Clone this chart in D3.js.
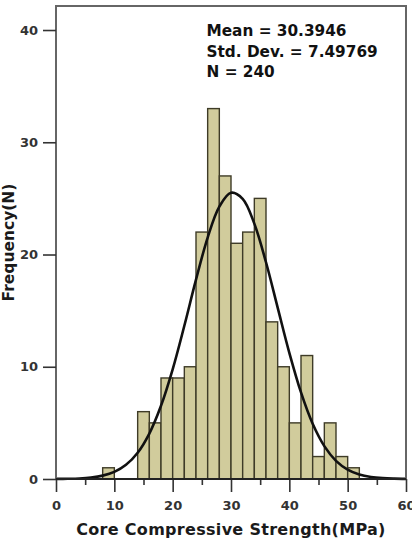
<!DOCTYPE html>
<html>
<head>
<meta charset="utf-8">
<script src="https://cdn.jsdelivr.net/npm/d3@7"></script>
<style>
  body { margin: 0; background: #fff; }
  text { font-family: "DejaVu Sans", Verdana, sans-serif; font-weight: bold; }
</style>
</head>
<body>
<div id="chart"></div>
<script>
// histogram bins (lower edge, MPa) and counts
var binStarts = [8, 10, 12, 14, 16, 18, 20, 22, 24, 26, 28, 30, 32, 34, 36, 38, 40, 42, 44, 46, 48, 50];
var counts    = [1, 0, 0, 6, 5, 9, 9, 10, 22, 33, 27, 21, 22, 25, 14, 10, 5, 11, 2, 5, 2, 1];
var binWidth = 2;

// fitted normal curve, read at every 2 MPa
var curveX = [0, 2, 4, 6, 8, 10, 12, 14, 16, 18, 20, 22, 24, 26, 28, 30, 32, 34, 36, 38, 40, 42, 44, 46, 48, 50, 52, 54, 56, 58, 60];
var curveY = [0.007, 0.02, 0.05, 0.13, 0.3, 0.63, 1.26, 2.34, 4.05, 6.52, 9.77, 13.65, 17.76, 21.51, 24.27, 25.5,
              24.96, 22.75, 19.31, 15.27, 11.24, 7.71, 4.92, 2.93, 1.62, 0.84, 0.4, 0.18, 0.075, 0.03, 0.01];

var xTicks = [0, 10, 20, 30, 40, 50, 60];
var xMinorTicks = [5, 15, 25, 35, 45, 55];
var yTicks = [0, 10, 20, 30, 40];

var statsLines = ["Mean = 30.3946", "Std. Dev. = 7.49769", "N = 240"];

var svgWidth = 412;
var svgHeight = 543;
var margin = { top: 6, right: 6, bottom: 64, left: 56 };
var width = svgWidth - margin.left - margin.right;
var height = svgHeight - margin.top - margin.bottom;

var svg = d3.select("#chart")
  .append("svg")
  .attr("width", svgWidth)
  .attr("height", svgHeight);

var chartGroup = svg.append("g")
  .attr("transform", `translate(${margin.left}, ${margin.top})`);

var x = d3.scaleLinear().domain([0, 60]).range([0, width]);
var y = d3.scaleLinear().domain([0, 42.14]).range([height, 0]);

// bars
var bins = binStarts.map((b, i) => ({ x0: b, n: counts[i] })).filter(d => d.n > 0);
chartGroup.selectAll("rect.bar")
  .data(bins)
  .enter()
  .append("rect")
  .attr("class", "bar")
  .attr("x", d => x(d.x0))
  .attr("y", d => y(d.n))
  .attr("width", d => x(d.x0 + binWidth) - x(d.x0))
  .attr("height", d => y(0) - y(d.n))
  .attr("fill", "#d1cc9c")
  .attr("stroke", "#3e3b27")
  .attr("stroke-width", 1.4);

// normal curve
var line = d3.line()
  .x(d => x(d[0]))
  .y(d => y(d[1]))
  .curve(d3.curveCatmullRom);

chartGroup.append("path")
  .datum(curveX.map((v, i) => [v, curveY[i]]))
  .attr("d", line)
  .attr("fill", "none")
  .attr("stroke", "#111")
  .attr("stroke-width", 2.6);

// frame
chartGroup.append("rect")
  .attr("x", 0)
  .attr("y", 0)
  .attr("width", width)
  .attr("height", height)
  .attr("fill", "none")
  .attr("stroke", "#666")
  .attr("stroke-width", 2);

// axes
var bottomAxis = d3.axisBottom(x).tickValues(xTicks).tickSize(13).tickPadding(9).tickFormat(d3.format("d"));
var minorAxis = d3.axisBottom(x).tickValues(xMinorTicks).tickSize(6).tickFormat("");
var leftAxis = d3.axisLeft(y).tickValues(yTicks).tickSize(13).tickPadding(5).tickFormat(d3.format("d"));

var gx = chartGroup.append("g").attr("transform", `translate(0, ${height})`).call(bottomAxis);
var gm = chartGroup.append("g").attr("transform", `translate(0, ${height})`).call(minorAxis);
var gy = chartGroup.append("g").call(leftAxis);

[gx, gm, gy].forEach(function(g) {
  g.select(".domain").remove();
  g.selectAll(".tick line").attr("stroke", "#333").attr("stroke-width", 1.6);
  g.selectAll(".tick text")
    .attr("fill", "#333")
    .style("font-size", "13px")
    .style("font-family", "'DejaVu Sans', Verdana, sans-serif")
    .style("font-weight", "bold");
});

// baseline
chartGroup.append("line")
  .attr("x1", 0).attr("x2", width)
  .attr("y1", y(0)).attr("y2", y(0))
  .attr("stroke", "#222")
  .attr("stroke-width", 2);

// stats text
chartGroup.selectAll("text.stats")
  .data(statsLines)
  .enter()
  .append("text")
  .attr("class", "stats")
  .attr("x", 150.5)
  .attr("y", (d, i) => 30 + i * 20.5)
  .style("font-size", "15.3px")
  .attr("fill", "#111")
  .text(d => d);

// axis labels
chartGroup.append("text")
  .attr("transform", "rotate(-90)")
  .attr("x", 0 - height / 2)
  .attr("y", 0 - margin.left + 14)
  .attr("text-anchor", "middle")
  .style("font-size", "15.5px")
  .attr("fill", "#1a1a1a")
  .text("Frequency(N)");

chartGroup.append("text")
  .attr("x", width / 2)
  .attr("y", height + 56)
  .attr("text-anchor", "middle")
  .style("font-size", "16px")
  .style("letter-spacing", "0.3px")
  .attr("fill", "#1a1a1a")
  .text("Core Compressive Strength(MPa)");
</script>
</body>
</html>
